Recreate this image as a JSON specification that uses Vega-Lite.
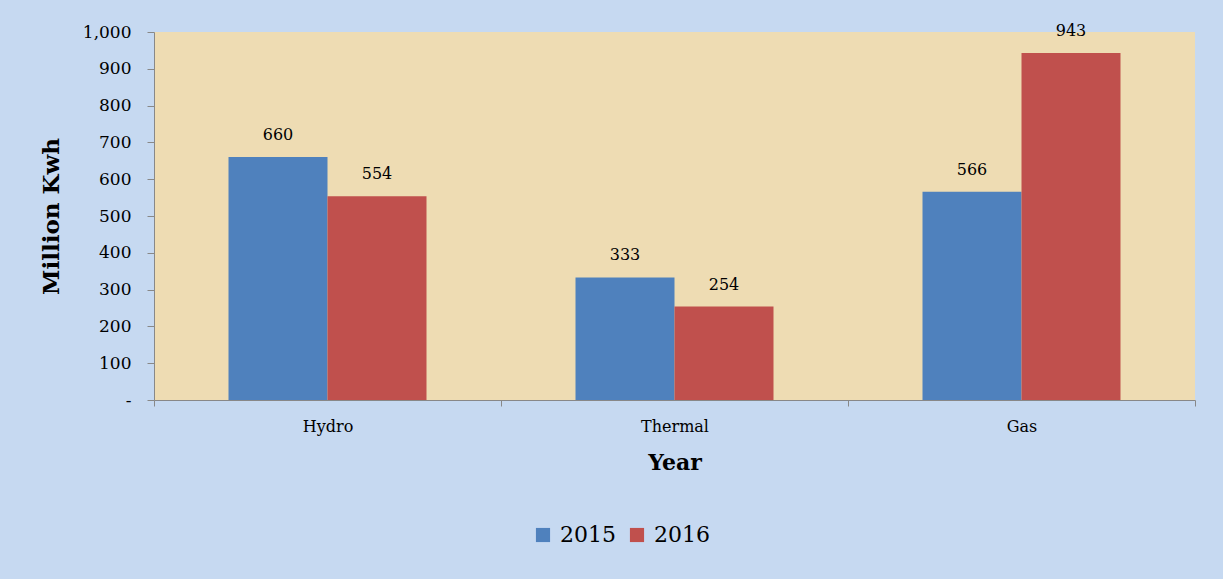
{
  "$schema": "https://vega.github.io/schema/vega-lite/v6.json",
  "autosize": {"type": "none"},
  "padding": {"left": 154, "top": 32, "right": 28, "bottom": 179},
  "width": 1041,
  "height": 368,
  "background": "#c6d9f1",
  "config": {
    "font": "DejaVu Serif",
    "view": {"fill": "#eedcb3", "stroke": null}
  },
  "data": {
    "values": [
      {"type": "Hydro", "year": "2015", "value": 660},
      {"type": "Hydro", "year": "2016", "value": 554},
      {"type": "Thermal", "year": "2015", "value": 333},
      {"type": "Thermal", "year": "2016", "value": 254},
      {"type": "Gas", "year": "2015", "value": 566},
      {"type": "Gas", "year": "2016", "value": 943}
    ]
  },
  "encoding": {
    "x": {
      "field": "type", "type": "nominal", "sort": ["Hydro", "Thermal", "Gas"],
      "scale": {"paddingInner": 0, "paddingOuter": 0},
      "axis": {
        "title": "Year", "titleFontSize": 22, "titleFontWeight": "bold", "titleColor": "#000",
        "titlePadding": 18,
        "labelAngle": 0, "labelFontSize": 16, "labelColor": "#000", "labelPadding": 12,
        "tickBand": "extent", "tickSize": 6, "tickColor": "#888", "domainColor": "#888"
      }
    },
    "xOffset": {"field": "year", "type": "nominal", "scale": {"paddingInner": 0, "paddingOuter": 0.7525}},
    "y": {
      "field": "value", "type": "quantitative",
      "scale": {"domain": [0, 1000]},
      "axis": {
        "title": "Million Kwh", "titleFontSize": 23, "titleFontWeight": "bold", "titleColor": "#000",
        "titlePadding": 19,
        "values": [0, 100, 200, 300, 400, 500, 600, 700, 800, 900, 1000],
        "labelExpr": "datum.value == 0 ? '-' : format(datum.value, ',')",
        "labelFontSize": 17, "labelColor": "#000", "labelPadding": 16,
        "tickSize": 7, "tickColor": "#888", "domainColor": "#888", "grid": false
      }
    }
  },
  "layer": [
    {
      "mark": {"type": "bar"},
      "encoding": {
        "color": {
          "field": "year", "type": "nominal",
          "scale": {"domain": ["2015", "2016"], "range": ["#4f81bd", "#c0504d"]},
          "legend": {
            "title": null, "orient": "none", "direction": "horizontal",
            "legendX": 378, "legendY": 492,
            "symbolType": "square", "symbolSize": 200, "symbolStrokeWidth": 0,
            "labelFontSize": 22, "labelColor": "#000", "columnPadding": 10, "labelOffset": 6
          }
        }
      }
    },
    {
      "mark": {"type": "text", "baseline": "bottom", "dy": -14, "fontSize": 16, "color": "#000"},
      "encoding": {"text": {"field": "value", "type": "quantitative"}}
    }
  ]
}
